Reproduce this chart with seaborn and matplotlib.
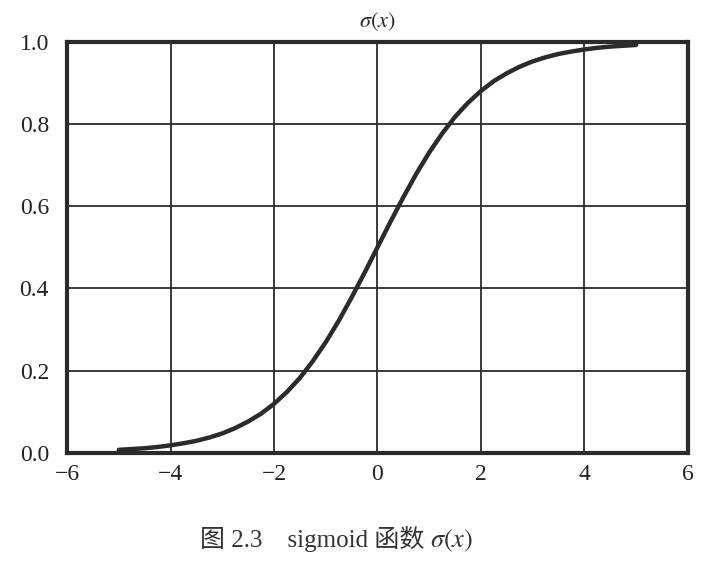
import numpy as np
import seaborn as sns
import matplotlib.pyplot as plt
import pandas as pd

# curve points
x_vals = [-5.0, -4.75, -4.5, -4.25, -4.0, -3.75, -3.5, -3.25, -3.0, -2.75, -2.5,
          -2.25, -2.0, -1.75, -1.5, -1.25, -1.0, -0.75, -0.5, -0.25, 0.0,
          0.25, 0.5, 0.75, 1.0, 1.25, 1.5, 1.75, 2.0, 2.25, 2.5,
          2.75, 3.0, 3.25, 3.5, 3.75, 4.0, 4.25, 4.5, 4.75, 5.0]
y_vals = [0.007, 0.009, 0.011, 0.014, 0.018, 0.023, 0.029, 0.037, 0.047, 0.060, 0.076,
          0.095, 0.119, 0.148, 0.182, 0.223, 0.269, 0.321, 0.378, 0.438, 0.500,
          0.562, 0.622, 0.679, 0.731, 0.777, 0.818, 0.852, 0.881, 0.905, 0.924,
          0.940, 0.953, 0.963, 0.971, 0.977, 0.982, 0.986, 0.989, 0.991, 0.993]
x_ticks = [-6, -4, -2, 0, 2, 4, 6]
y_ticks = [0.0, 0.2, 0.4, 0.6, 0.8, 1.0]

df = pd.DataFrame({'x': x_vals, 'y': y_vals})

sns.set_style('white')
plt.rcParams['font.family'] = ['Liberation Serif', 'Noto Sans CJK SC', 'DejaVu Sans']
plt.rcParams['mathtext.fontset'] = 'stix'

fig = plt.figure(figsize=(7.21, 5.61), dpi=100)
ax = fig.add_axes([0.093, 0.193, 0.861, 0.732])

ink = '#2b2b2b'
sns.lineplot(data=df, x='x', y='y', ax=ax, color=ink, linewidth=3.2)

ax.set_xlim(-6, 6)
ax.set_ylim(0, 1)
ax.set_xticks(x_ticks)
ax.set_yticks(y_ticks)
ax.set_xticklabels([str(t).replace('-', '\u2212') for t in x_ticks])
ax.set_yticklabels([f'{t:.1f}' for t in y_ticks])
ax.grid(True, color=ink, linewidth=1.3)
for s in ax.spines.values():
    s.set_color(ink)
    s.set_linewidth(3.0)
ax.tick_params(axis='y', labelsize=17, colors='#222222', length=0, pad=13)
ax.tick_params(axis='x', labelsize=17, colors='#222222', length=0, pad=8)
ax.set_xlabel('')
ax.set_ylabel('')
ax.set_title(r'$\sigma(x)$', fontsize=16, pad=11)

# caption: CJK part and math part drawn separately so the CJK fallback works
fig.text(0.588, 0.025, '图 2.3    sigmoid 函数', ha='right', fontsize=18, color='#333333')
fig.text(0.596, 0.025, r'$\sigma(x)$', ha='left', fontsize=19, color='#333333')

plt.savefig('out.png', dpi=100)
